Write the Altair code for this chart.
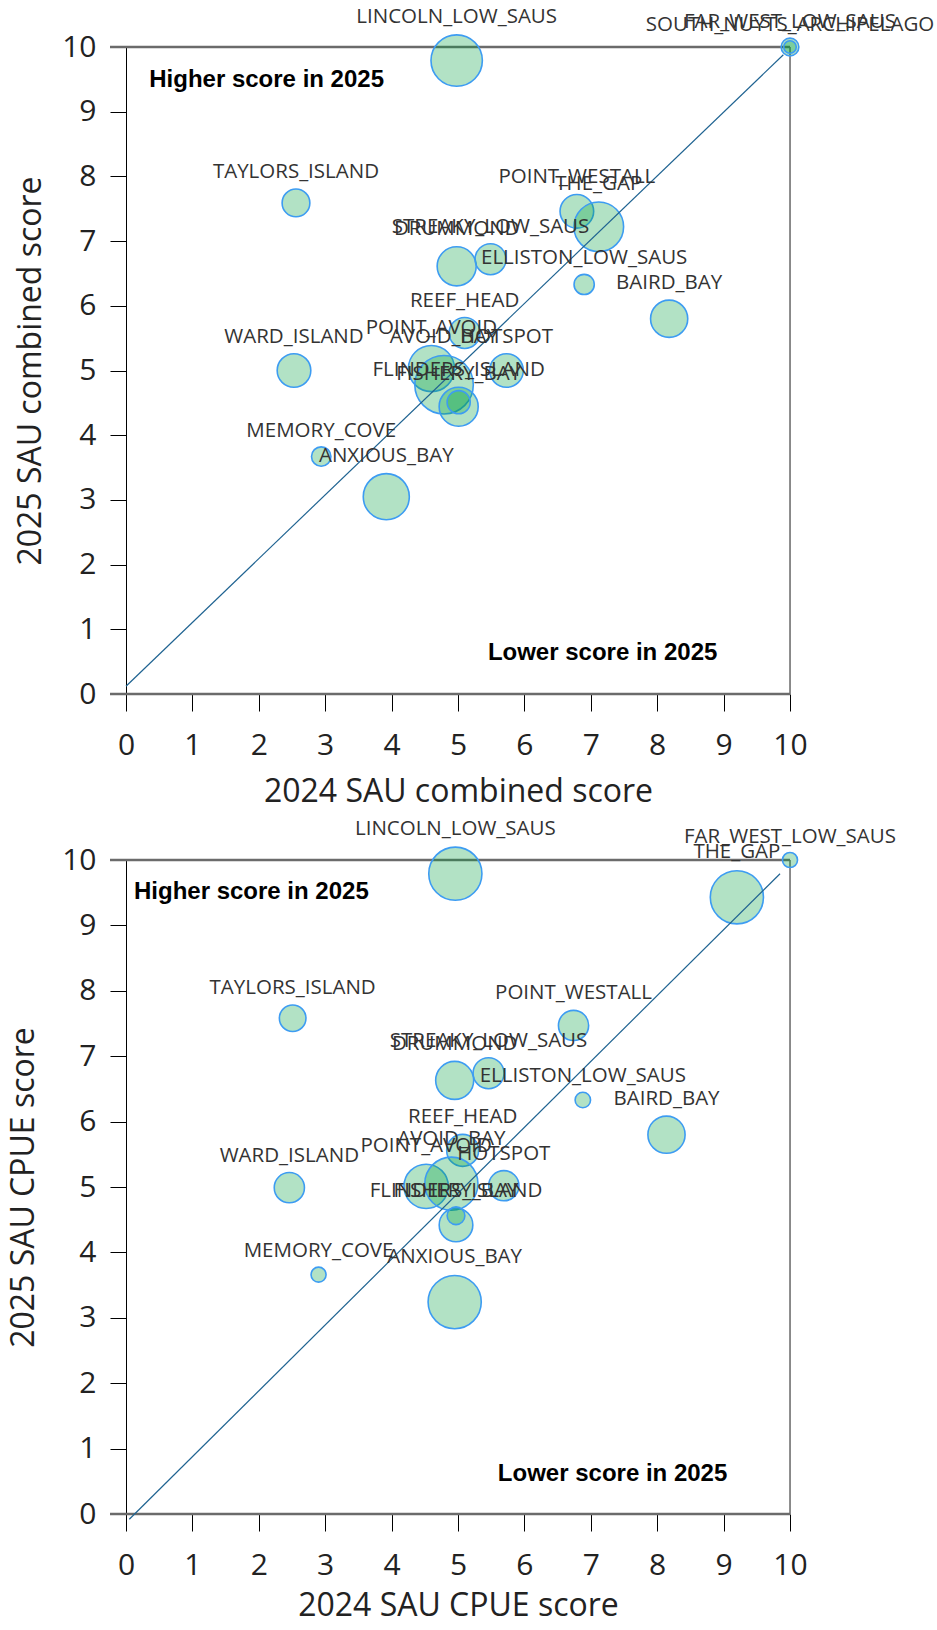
import math
import altair as alt
import pandas as pd

# ---------------- data: top panel (combined score) ----------------
sau_top = ["LINCOLN_LOW_SAUS", "FAR_WEST_LOW_SAUS", "SOUTH_NUYTS_ARCHIPELAGO", "TAYLORS_ISLAND",
           "POINT_WESTALL", "THE_GAP", "DRUMMOND", "STREAKY_LOW_SAUS", "ELLISTON_LOW_SAUS",
           "BAIRD_BAY", "REEF_HEAD", "POINT_AVOID", "AVOID_BAY", "HOTSPOT", "FLINDERS_ISLAND",
           "FISHERY_BAY", "WARD_ISLAND", "MEMORY_COVE", "ANXIOUS_BAY"]
combined_2024 = [4.98, 10.0, 10.0, 2.56, 6.79, 7.12, 4.98, 5.49, 6.90, 8.18, 5.10, 4.60, 4.79,
                 5.73, 5.01, 5.01, 2.53, 2.94, 3.92]
combined_2025 = [9.79, 10.0, 10.0, 7.59, 7.46, 7.22, 6.61, 6.72, 6.33, 5.80, 5.58, 5.03, 4.78,
                 5.00, 4.44, 4.51, 5.00, 3.67, 3.05]
bubble_top = [840, 100, 50, 245, 360, 785, 485, 305, 130, 440, 305, 675, 1090, 360, 485, 170,
              360, 120, 675]

# ---------------- data: bottom panel (CPUE score) ----------------
sau_bot = ["LINCOLN_LOW_SAUS", "FAR_WEST_LOW_SAUS", "THE_GAP", "TAYLORS_ISLAND", "POINT_WESTALL",
           "DRUMMOND", "STREAKY_LOW_SAUS", "ELLISTON_LOW_SAUS", "BAIRD_BAY", "REEF_HEAD",
           "POINT_AVOID", "AVOID_BAY", "HOTSPOT", "FLINDERS_ISLAND", "FISHERY_BAY", "WARD_ISLAND",
           "MEMORY_COVE", "ANXIOUS_BAY"]
cpue_2024 = [4.96, 10.0, 9.20, 2.51, 6.74, 4.95, 5.46, 6.88, 8.14, 5.07, 4.52, 4.90, 5.69, 4.97,
             4.97, 2.46, 2.90, 4.95]
cpue_2025 = [9.79, 10.0, 9.43, 7.58, 7.47, 6.63, 6.74, 6.33, 5.80, 5.56, 5.01, 5.05, 5.02, 4.42,
             4.56, 4.99, 3.66, 3.24]
bubble_bot = [900, 72, 900, 225, 290, 460, 305, 76, 440, 324, 625, 900, 290, 360, 100, 290, 72,
              900]

# diagonal reference lines
diag_top_x = [0.0, 9.9]
diag_top_y = [0.12, 9.88]
diag_bot_x = [0.05, 9.85]
diag_bot_y = [-0.08, 9.79]

ticks = list(range(0, 11))
notes = ["Higher score in 2025", "Lower score in 2025"]
notes_top_x = [0.35, 5.45]
notes_top_y = [9.49, 0.63]
notes_bot_x = [0.12, 5.60]
notes_bot_y = [9.51, 0.61]

W = 664
FONT = "Open Sans"
BMAX = 1200


def panel(names, xs, ys, bub, dx, dy, nx, ny, xtitle, ytitle, height, xtp, ytp):
    df = pd.DataFrame({"sau": names, "x": xs, "y": ys, "b": bub})
    ppu = height / 10.0
    xscale = alt.Scale(domain=[0, 10], nice=False, zero=True)
    yscale = alt.Scale(domain=[0, 10], nice=False, zero=True)
    xaxis = alt.Axis(values=ticks, format="d", title=xtitle, domain=False, grid=False,
                     tickSize=17, tickColor="#000000", tickWidth=1, labelFontSize=30,
                     labelFont=FONT, labelColor="#222222", labelPadding=19, labelFlush=False,
                     labelOverlap=False, titleFont=FONT, titleFontSize=32,
                     titleFontWeight="normal", titleColor="#222222", titlePadding=xtp)
    yaxis = alt.Axis(values=ticks, format="d", title=ytitle, domain=True,
                     domainColor="#000000", domainWidth=1, grid=False, tickSize=16,
                     tickColor="#000000", tickWidth=1, labelFontSize=30, labelFont=FONT,
                     labelColor="#222222", labelPadding=14, labelFlush=False,
                     labelOverlap=False, titleFont=FONT, titleFontSize=32,
                     titleFontWeight="normal", titleColor="#222222", titlePadding=ytp)
    X = alt.X("x:Q", scale=xscale, axis=xaxis)
    Y = alt.Y("y:Q", scale=yscale, axis=yaxis)

    frame_h = alt.Chart(pd.DataFrame({"y": [0, 10]})).mark_rule(
        color="#6b6b6b", strokeWidth=2.5).encode(
        y=alt.Y("y:Q", scale=yscale), x=alt.value(-16), x2=alt.value(W))
    frame_v = alt.Chart(pd.DataFrame({"x": [10], "y": [0], "y2": [10]})).mark_rule(
        color="#6b6b6b", strokeWidth=1.5).encode(
        x=alt.X("x:Q", scale=xscale), y=alt.Y("y:Q", scale=yscale), y2="y2:Q")

    bubbles = alt.Chart(df).mark_circle(
        fill="#00a040", fillOpacity=0.3, stroke="#3d9cf2", strokeWidth=1.6,
        strokeOpacity=1, opacity=1).encode(
        x=X, y=Y,
        size=alt.Size("b:Q", scale=alt.Scale(domain=[0, BMAX], range=[0, math.pi * BMAX]),
                      legend=None))

    diag = alt.Chart(pd.DataFrame({"x": dx, "y": dy})).mark_line(
        color="#1f6391", strokeWidth=1.2).encode(
        x=alt.X("x:Q", scale=xscale), y=alt.Y("y:Q", scale=yscale))

    labels = alt.Chart(df).transform_calculate(
        ylab=f"datum.y + (sqrt(datum.b) + 15) / {ppu}").mark_text(
        font=FONT, fontSize=20.5, color="#333333", align="center", baseline="middle").encode(
        x=alt.X("x:Q", scale=xscale), y=alt.Y("ylab:Q", scale=yscale), text="sau:N")

    ann = alt.Chart(pd.DataFrame({"t": notes, "x": nx, "y": ny})).mark_text(
        font="Liberation Sans", fontWeight="bold", fontSize=24, color="#000000",
        align="left", baseline="middle").encode(
        x=alt.X("x:Q", scale=xscale), y=alt.Y("y:Q", scale=yscale), text="t:N")

    return alt.layer(frame_h, frame_v, bubbles, diag, labels, ann).properties(
        width=W, height=height)


top = panel(sau_top, combined_2024, combined_2025, bubble_top, diag_top_x, diag_top_y,
            notes_top_x, notes_top_y, "2024 SAU combined score", "2025 SAU combined score",
            647, 16, 14)
bottom = panel(sau_bot, cpue_2024, cpue_2025, bubble_bot, diag_bot_x, diag_bot_y,
               notes_bot_x, notes_bot_y, "2024 SAU CPUE score", "2025 SAU CPUE score",
               654, 10, 21)

chart = alt.vconcat(top, bottom, spacing=166, bounds="flush").properties(
    padding={"top": 6, "left": 7, "right": 2, "bottom": 0}
).configure_view(stroke=None).configure(background="white")

chart.save("out.html", embed_options={"renderer": "svg", "actions": False})
